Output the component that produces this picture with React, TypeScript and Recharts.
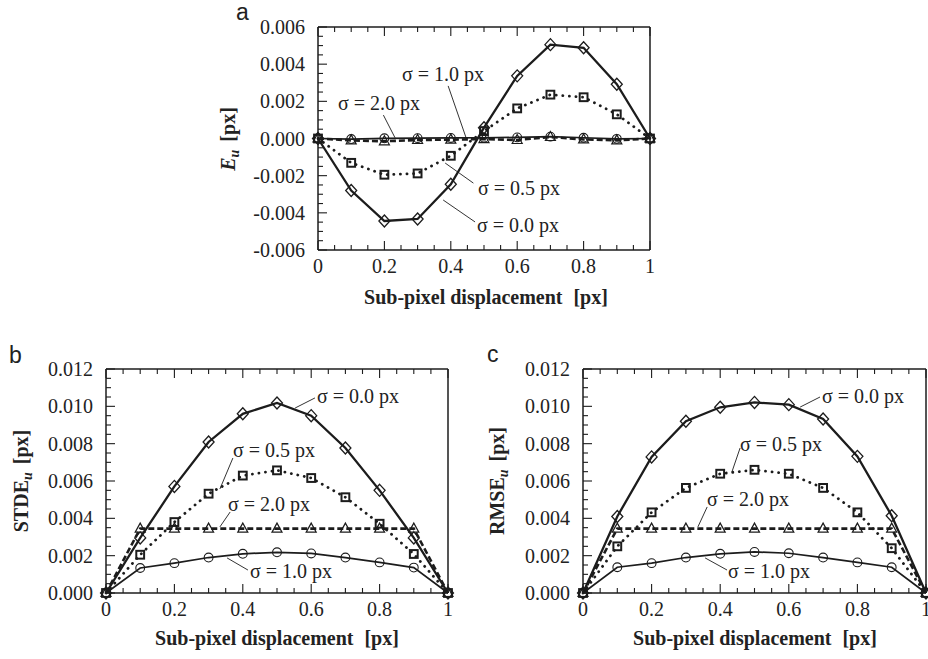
import React from 'react';
import { LineChart, Line, XAxis, YAxis, ReferenceLine } from 'recharts';

const W = 928;
const H = 659;
const SERIF = '"Liberation Serif", "Times New Roman", Times, serif';
const SANS = '"Liberation Sans", Arial, Helvetica, sans-serif';
const INK = '#1c1c1c';

// ---------- data ----------
const displacement = [0, 0.1, 0.2, 0.3, 0.4, 0.5, 0.6, 0.7, 0.8, 0.9, 1];

const xTicks = [0, 0.05, 0.1, 0.15, 0.2, 0.25, 0.3, 0.35, 0.4, 0.45, 0.5, 0.55, 0.6, 0.65, 0.7, 0.75, 0.8, 0.85, 0.9, 0.95, 1];
const xLabelTicks = [0, 0.2, 0.4, 0.6, 0.8, 1];

const yTicksA = [-0.006, -0.0055, -0.005, -0.0045, -0.004, -0.0035, -0.003, -0.0025, -0.002, -0.0015, -0.001, -0.0005, 0, 0.0005, 0.001, 0.0015, 0.002, 0.0025, 0.003, 0.0035, 0.004, 0.0045, 0.005, 0.0055, 0.006];
const yLabelTicksA = [-0.006, -0.004, -0.002, 0, 0.002, 0.004, 0.006];

const yTicksBC = [0, 0.0005, 0.001, 0.0015, 0.002, 0.0025, 0.003, 0.0035, 0.004, 0.0045, 0.005, 0.0055, 0.006, 0.0065, 0.007, 0.0075, 0.008, 0.0085, 0.009, 0.0095, 0.01, 0.0105, 0.011, 0.0115, 0.012];
const yLabelTicksBC = [0, 0.002, 0.004, 0.006, 0.008, 0.01, 0.012];

// (a) E_u
const eSigma00 = [0, -0.0028, -0.00444, -0.00433, -0.00246, 0.00058, 0.00337, 0.00505, 0.00488, 0.00292, 0];
const eSigma05 = [0, -0.00131, -0.00195, -0.00188, -0.00093, 0.0004, 0.00162, 0.00236, 0.00222, 0.0013, 0];
const eSigma10 = [0, -0.00003, 0.00001, 0.00002, 0.00003, 0.00004, 0.00006, 0.0001, 0.00004, -0.00002, 0];
const eSigma20 = [0, -0.0001, -0.00015, -0.00008, -0.00006, -0.00003, -0.00008, 0.00008, -0.00005, -0.0001, 0];

// (b) STDE_u
const sSigma00 = [0, 0.00295, 0.00571, 0.00809, 0.0096, 0.01018, 0.0095, 0.00777, 0.0055, 0.00295, 0];
const sSigma05 = [0, 0.00205, 0.0038, 0.00532, 0.00629, 0.00657, 0.00616, 0.00513, 0.00371, 0.00209, 0];
const sSigma10 = [0, 0.00134, 0.0016, 0.0019, 0.0021, 0.00218, 0.00212, 0.0019, 0.00164, 0.00136, 0];
const sSigma20 = [0, 0.00345, 0.00345, 0.00345, 0.00345, 0.00345, 0.00345, 0.00345, 0.00345, 0.00345, 0];

// (c) RMSE_u
const rSigma00 = [0, 0.0041, 0.00729, 0.0092, 0.00995, 0.01021, 0.01009, 0.00932, 0.00732, 0.00414, 0];
const rSigma05 = [0, 0.0025, 0.00432, 0.00563, 0.00639, 0.0066, 0.00639, 0.00563, 0.00432, 0.0024, 0];
const rSigma10 = [0, 0.00138, 0.0016, 0.0019, 0.0021, 0.0022, 0.00213, 0.0019, 0.00164, 0.00138, 0];
const rSigma20 = [0, 0.00345, 0.00345, 0.00345, 0.00345, 0.00345, 0.00345, 0.00345, 0.00345, 0.00345, 0];

const seriesLabels = ['σ = 0.0 px', 'σ = 0.5 px', 'σ = 1.0 px', 'σ = 2.0 px'];

// leader lines (data coordinates): [x1, y1, x2, y2]
const leadersA = [
  [0.392, 0.00283, 0.446, 0.00004],
  [0.197, 0.00126, 0.232, 0.00004],
  [0.383, -0.00132, 0.468, -0.0024],
  [0.377, -0.00331, 0.473, -0.00449],
];
const leadersB = [
  [0.611, 0.01045, 0.553, 0.00991],
  [0.371, 0.00723, 0.333, 0.00557],
  [0.363, 0.00434, 0.333, 0.00354],
  [0.415, 0.00123, 0.354, 0.00188],
];
const leadersC = [
  [0.691, 0.0105, 0.633, 0.00996],
  [0.458, 0.00777, 0.434, 0.00648],
  [0.362, 0.00461, 0.335, 0.00354],
  [0.42, 0.00123, 0.356, 0.00188],
];

const buildRows = (s00: number[], s05: number[], s10: number[], s20: number[]) =>
  displacement.map((x, i) => ({ x, s00: s00[i], s05: s05[i], s10: s10[i], s20: s20[i] }));

const rowsA = buildRows(eSigma00, eSigma05, eSigma10, eSigma20);
const rowsB = buildRows(sSigma00, sSigma05, sSigma10, sSigma20);
const rowsC = buildRows(rSigma00, rSigma05, rSigma10, rSigma20);

// ---------- styles ----------
type Kind = 'diamond' | 'square' | 'circle' | 'triangle';
const seriesStyle: { key: string; kind: Kind; width: number; dash?: string; cap?: 'round' | 'butt' }[] = [
  { key: 's20', kind: 'triangle', width: 2.6, dash: '6 3' },
  { key: 's10', kind: 'circle', width: 1.7 },
  { key: 's05', kind: 'square', width: 2.8, dash: '0.1 6.5', cap: 'round' },
  { key: 's00', kind: 'diamond', width: 2.3 },
];

const Marker = ({ cx, cy, kind }: { cx: number; cy: number; kind: Kind }) => {
  if (cx == null || cy == null) return null;
  switch (kind) {
    case 'diamond':
      return <polygon points={`${cx},${cy - 6} ${cx + 5.5},${cy} ${cx},${cy + 6} ${cx - 5.5},${cy}`} fill="none" stroke={INK} strokeWidth={1.3} />;
    case 'square':
      return <rect x={cx - 3.9} y={cy - 3.9} width={7.8} height={7.8} fill="none" stroke={INK} strokeWidth={2} />;
    case 'circle':
      return <circle cx={cx} cy={cy} r={4.4} fill="none" stroke={INK} strokeWidth={1.1} />;
    default:
      return <polygon points={`${cx},${cy - 5.5} ${cx + 5},${cy + 3.5} ${cx - 5},${cy + 3.5}`} fill="none" stroke={INK} strokeWidth={1.2} />;
  }
};

const near = (v: number, list: number[]) => list.some((t) => Math.abs(t - v) < 1e-9);
const fmtX = (v: number) => String(Number(v.toFixed(2)));
const fmtY = (v: number) => v.toFixed(3);

const makeXTick = (side: 'bottom' | 'top') => (props: any) => {
  const { x, y, payload } = props;
  const v = payload.value as number;
  const major = near(v, xLabelTicks);
  const len = major ? 9 : 5;
  if (side === 'top') {
    return (
      <g>
        <line x1={x} x2={x} y1={y} y2={y + len} stroke={INK} strokeWidth={1.1} />
      </g>
    );
  }
  return (
    <g>
      <line x1={x} x2={x} y1={y} y2={y - len} stroke={INK} strokeWidth={1.1} />
      {major && (
        <text x={x} y={y + 23} textAnchor="middle" fontFamily={SERIF} fontSize={20} fill="#222">
          {fmtX(v)}
        </text>
      )}
    </g>
  );
};

const makeYTick = (side: 'left' | 'right', labels: number[]) => (props: any) => {
  const { x, y, payload } = props;
  const v = payload.value as number;
  const major = near(v, labels);
  const len = major ? 9 : 5;
  if (side === 'right') {
    return (
      <g>
        <line x1={x} x2={x - len} y1={y} y2={y} stroke={INK} strokeWidth={1.1} />
      </g>
    );
  }
  return (
    <g>
      <line x1={x} x2={x + len} y1={y} y2={y} stroke={INK} strokeWidth={1.1} />
      {major && (
        <text x={x - 13} y={y + 7} textAnchor="end" fontFamily={SERIF} fontSize={20} fill="#222">
          {fmtY(v)}
        </text>
      )}
    </g>
  );
};

type Plot = { left: number; top: number; right: number; bottom: number };
const AX = 1; // axis band size

function Panel({ rows, plot, yDomain, yTicks, yLabels, leaders }: {
  rows: any[]; plot: Plot; yDomain: [number, number]; yTicks: number[]; yLabels: number[]; leaders: number[][];
}) {
  const axisLine = { stroke: INK, strokeWidth: 1.5 };
  return (
    <div style={{ position: 'absolute', left: 0, top: 0, width: W, height: H }}>
      <LineChart
        width={W}
        height={H}
        data={rows}
        margin={{ left: plot.left - AX, top: plot.top - AX, right: W - plot.right - AX, bottom: H - plot.bottom - AX }}
      >
        <XAxis xAxisId="b" dataKey="x" type="number" domain={[0, 1]} ticks={xTicks} interval={0}
          height={AX} tickSize={0} tickMargin={0} tickLine={false} axisLine={axisLine} tick={makeXTick('bottom')} />
        <XAxis xAxisId="t" orientation="top" dataKey="x" type="number" domain={[0, 1]} ticks={xTicks} interval={0}
          height={AX} tickSize={0} tickMargin={0} tickLine={false} axisLine={axisLine} tick={makeXTick('top')} />
        <YAxis yAxisId="l" type="number" domain={yDomain} ticks={yTicks} interval={0}
          width={AX} tickSize={0} tickMargin={0} tickLine={false} axisLine={axisLine} tick={makeYTick('left', yLabels)} />
        <YAxis yAxisId="r" orientation="right" type="number" domain={yDomain} ticks={yTicks} interval={0}
          width={AX} tickSize={0} tickMargin={0} tickLine={false} axisLine={axisLine} tick={makeYTick('right', yLabels)} />
        {leaders.map((s, i) => (
          <ReferenceLine key={`ld-${i}`} xAxisId="b" yAxisId="l" ifOverflow="visible"
            segment={[{ x: s[0], y: s[1] }, { x: s[2], y: s[3] }]} stroke={INK} strokeWidth={0.9} />
        ))}
        {seriesStyle.map((st) => (
          <Line
            key={st.key}
            xAxisId="b"
            yAxisId="l"
            type="linear"
            dataKey={st.key}
            stroke={INK}
            strokeWidth={st.width}
            strokeDasharray={st.dash}
            strokeLinecap={st.cap || 'butt'}
            isAnimationActive={false}
            dot={(p: any) => <Marker key={`${st.key}-${p.index}`} cx={p.cx} cy={p.cy} kind={st.kind} />}
            activeDot={false}
          />
        ))}
      </LineChart>
    </div>
  );
}

const plotA: Plot = { left: 318, top: 27, right: 650, bottom: 250 };
const plotB: Plot = { left: 106, top: 369, right: 448, bottom: 593 };
const plotC: Plot = { left: 583, top: 369, right: 926, bottom: 593 };

// label positions (left x, baseline y) in order: σ=0.0, 0.5, 1.0, 2.0
const labelPosA = [[477, 232], [478, 195], [402, 81], [338, 110]];
const labelPosB = [[317, 403], [233, 457], [250, 578], [228, 511]];
const labelPosC = [[822, 403], [740, 451], [728, 578], [707, 506]];

const Overlay = () => {
  const t = { fontFamily: SERIF, fontSize: 20, fill: '#222' } as const;
  const title = { fontFamily: SERIF, fontSize: 20, fontWeight: 700, fill: '#222' } as const;
  const sigmaLabels = (pos: number[][], p: string) =>
    pos.map((q, i) => (
      <text key={`${p}-${i}`} x={q[0]} y={q[1]} {...t}>{seriesLabels[i]}</text>
    ));
  const yTitle = (x: number, y: number, main: string) => (
    <text x={x} y={y} transform={`rotate(-90, ${x}, ${y})`} textAnchor="middle" {...title}>
      <tspan>{main}</tspan>
      <tspan fontStyle="italic" fontSize={14} dy={4}>u</tspan>
      <tspan dy={-4} dx={8}>[px]</tspan>
    </text>
  );
  return (
    <svg width={W} height={H} style={{ position: 'absolute', left: 0, top: 0, pointerEvents: 'none' }}>
      <text x={236} y={20} fontFamily={SANS} fontSize={23} fill="#222">a</text>
      <text x={9} y={363} fontFamily={SANS} fontSize={23} fill="#222">b</text>
      <text x={487} y={362} fontFamily={SANS} fontSize={23} fill="#222">c</text>

      <text x={486} y={304} textAnchor="middle" {...title}>Sub-pixel displacement <tspan dx={6}>[px]</tspan></text>
      <text x={277} y={645} textAnchor="middle" {...title}>Sub-pixel displacement <tspan dx={6}>[px]</tspan></text>
      <text x={755} y={645} textAnchor="middle" {...title}>Sub-pixel displacement <tspan dx={6}>[px]</tspan></text>

      <text x={235} y={139} transform="rotate(-90, 235, 139)" textAnchor="middle" {...title}>
        <tspan fontStyle="italic">E</tspan>
        <tspan fontStyle="italic" fontSize={14} dy={4}>u</tspan>
        <tspan dy={-4} dx={8}>[px]</tspan>
      </text>
      {yTitle(28, 481, 'STDE')}
      {yTitle(504, 481, 'RMSE')}

      {sigmaLabels(labelPosA, 'a')}
      {sigmaLabels(labelPosB, 'b')}
      {sigmaLabels(labelPosC, 'c')}
    </svg>
  );
};

export default function App() {
  return (
    <div style={{ position: 'absolute', left: 0, top: 0, width: W, height: H, background: '#fff', overflow: 'hidden' }}>
      <Panel rows={rowsA} plot={plotA} yDomain={[-0.006, 0.006]} yTicks={yTicksA} yLabels={yLabelTicksA} leaders={leadersA} />
      <Panel rows={rowsB} plot={plotB} yDomain={[0, 0.012]} yTicks={yTicksBC} yLabels={yLabelTicksBC} leaders={leadersB} />
      <Panel rows={rowsC} plot={plotC} yDomain={[0, 0.012]} yTicks={yTicksBC} yLabels={yLabelTicksBC} leaders={leadersC} />
      <Overlay />
    </div>
  );
}
